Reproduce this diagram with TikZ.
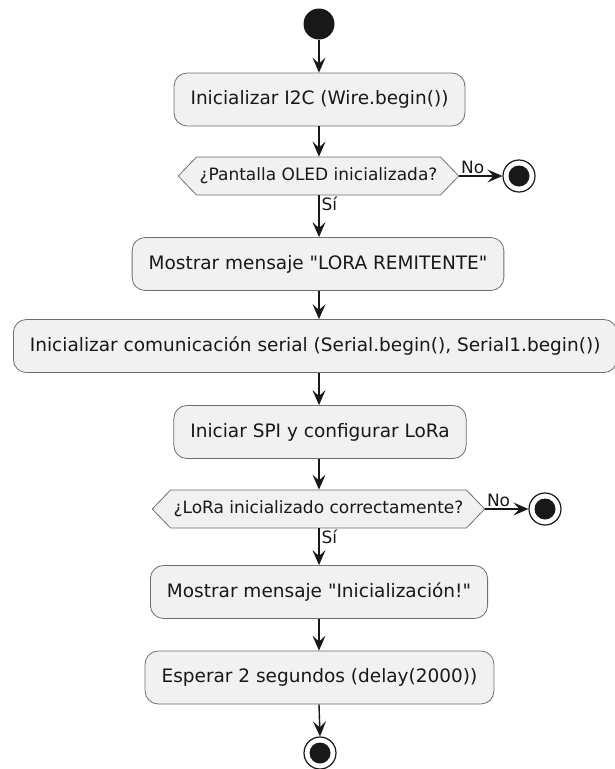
\documentclass[tikz,border=0pt]{standalone}
\usepackage{fontspec}
\setmainfont{DejaVu Sans}
\usetikzlibrary{arrows.meta,shapes.symbols}
\definecolor{ink}{HTML}{181818}
\definecolor{boxfill}{HTML}{F1F1F1}
\definecolor{boxline}{HTML}{6E6E6E}
\tikzset{
  every node/.style={font=\fontsize{18.5}{22}\selectfont, text=ink},
  action/.style={rectangle, rounded corners=13pt, draw=boxline, line width=0.8pt,
    fill=boxfill, minimum height=53pt, inner xsep=16.5pt},
  decision/.style={signal, signal to=west and east, signal pointer angle=92,
    draw=boxline, line width=0.8pt, fill=boxfill, minimum height=38pt,
    inner xsep=3pt, inner ysep=0pt, font=\fontsize{17}{20}\selectfont},
  startdot/.style={circle, fill=ink, draw=none, minimum size=31pt, inner sep=0pt},
  stopring/.style={circle, draw=ink, line width=1.2pt, fill=white, minimum size=32pt,
    inner sep=0pt, path picture={\fill[ink] (path picture bounding box.center) circle (10.5pt);}},
  flow/.style={draw=ink, line width=1.4pt,
    -{Stealth[length=15pt, width=13pt, inset=6pt]}},
  guard/.style={font=\fontsize{17}{20}\selectfont, inner sep=1pt},
}
\begin{document}
\begin{tikzpicture}[x=1pt, y=-1pt]
  \useasboundingbox (0,0) rectangle (615,769);

  % nodes of the start-up sequence
  \node[startdot] (start) at (319,24) {};
  \node[action] (i2c) at (319.5,99.5) {Inicializar I2C (Wire.begin())};
  \node[decision] (oled) at (318.5,176) {¿Pantalla OLED inicializada?};
  \node[stopring] (stopA) at (519,176) {};
  \node[action] (msg1) at (318,264) {Mostrar mensaje \textquotedbl LORA REMITENTE\textquotedbl};
  \node[action, anchor=west] (serial) at (13,346)
    {Inicializar comunicación serial (Serial.begin(), Serial1.begin())};
  \node[action] (spi) at (320,432) {Iniciar SPI y configurar LoRa};
  \node[decision] (lora) at (318.5,509) {¿LoRa inicializado correctamente?};
  \node[stopring] (stopB) at (545,509) {};
  \node[action] (msg2) at (319,592) {Mostrar mensaje \textquotedbl Inicialización!\textquotedbl};
  \node[action] (wait) at (319.5,677.5) {Esperar 2 segundos (delay(2000))};
  \node[stopring] (stopC) at (320,753) {};

  % control flow
  \draw[flow] (start) -- (start |- i2c.north);
  \draw[flow] (start |- i2c.south) -- (start |- oled.north);
  \draw[flow] (oled.east) -- (stopA.west)
    node[guard, pos=0, anchor=south west, yshift=1pt] {No};
  \draw[flow] (start |- oled.south) -- (start |- msg1.north)
    node[guard, pos=0, anchor=north west, xshift=1pt] {Sí};
  \draw[flow] (start |- msg1.south) -- (start |- serial.north);
  \draw[flow] (start |- serial.south) -- (start |- spi.north);
  \draw[flow] (start |- spi.south) -- (start |- lora.north);
  \draw[flow] (lora.east) -- (stopB.west)
    node[guard, pos=0, anchor=south west, yshift=1pt] {No};
  \draw[flow] (start |- lora.south) -- (start |- msg2.north)
    node[guard, pos=0, anchor=north west, xshift=1pt] {Sí};
  \draw[flow] (start |- msg2.south) -- (start |- wait.north);
  \draw[flow] (start |- wait.south) -- (stopC.north);
\end{tikzpicture}
\end{document}
